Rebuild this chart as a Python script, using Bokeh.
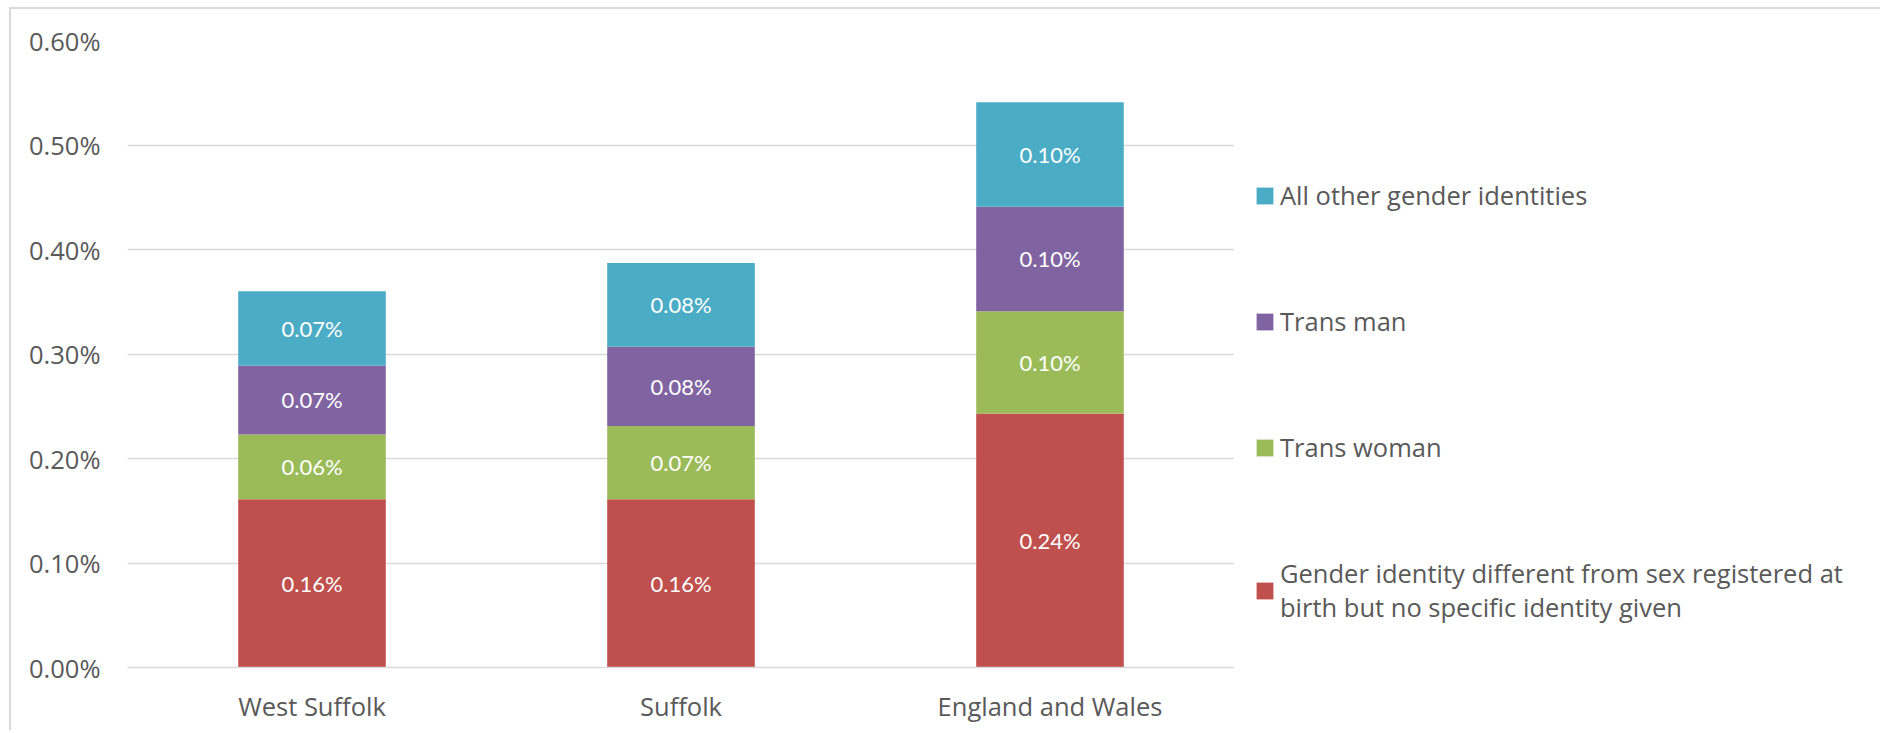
from bokeh.plotting import figure
from bokeh.layouts import row
from bokeh.models import (ColumnDataSource, FactorRange, Range1d, FixedTicker,
                          PrintfTickFormatter, Legend, LegendItem, LabelSet)
from bokeh.embed import file_html
from bokeh.resources import INLINE
from bokeh.core.properties import value

# ---- data (percent of usual residents) ----
areas = ["West Suffolk", "Suffolk", "England and Wales"]
series_keys = ["unspecified", "trans_woman", "trans_man", "other"]
series_names = [
    "Gender identity different from sex registered at\nbirth but no specific identity given",
    "Trans woman",
    "Trans man",
    "All other gender identities",
]
unspecified = [0.161, 0.161, 0.243]
trans_woman = [0.062, 0.070, 0.098]
trans_man = [0.066, 0.076, 0.100]
other = [0.071, 0.080, 0.100]
colors = ["#C0504D", "#9BBB59", "#8064A2", "#4BACC6"]
y_ticks = [0.0, 0.1, 0.2, 0.3, 0.4, 0.5, 0.6]

values = {"unspecified": unspecified, "trans_woman": trans_woman,
          "trans_man": trans_man, "other": other}

source = ColumnDataSource(dict(area=areas, **values))

# label positions (segment mid-points) computed from the data
lx, ly, lt = [], [], []
for i, a in enumerate(areas):
    base = 0.0
    for k in series_keys:
        v = values[k][i]
        lx.append(a)
        ly.append(base + v / 2)
        lt.append("%.2f%%" % v)
        base += v
label_source = ColumnDataSource(dict(x=lx, y=ly, text=lt))

TOTAL_W, H = 1880, 730
MAIN_W = 1234
LEG_W = TOTAL_W - MAIN_W

p = figure(x_range=FactorRange(factors=areas, range_padding=0),
           y_range=Range1d(0, 0.6),
           width=MAIN_W, height=H,
           output_backend="svg", toolbar_location=None,
           min_border_left=127, min_border_right=0,
           min_border_top=40, min_border_bottom=63)
p.border_fill_color = None
p.background_fill_color = "white"
p.outline_line_color = None

renderers = p.vbar_stack(series_keys, x="area", width=0.4, source=source,
                         fill_color=colors, line_color=None)

labels = LabelSet(x="x", y="y", text="text", source=label_source,
                  text_align="center", text_baseline="middle",
                  text_color="white", text_font=value("Lato"),
                  text_font_size="22px")
p.add_layout(labels)

# axes
p.yaxis.ticker = FixedTicker(ticks=y_ticks)
p.yaxis.formatter = PrintfTickFormatter(format="%.2f%%")
p.yaxis.axis_line_color = None
p.yaxis.major_tick_line_color = None
p.yaxis.minor_tick_line_color = None
p.yaxis.major_label_standoff = 21
p.yaxis.major_label_text_font = "Open Sans"
p.yaxis.major_label_text_font_size = "25.5px"
p.yaxis.major_label_text_color = "#595959"

p.xaxis.axis_line_color = "#d9d9d9"
p.xaxis.axis_line_width = 1.3
p.xaxis.major_tick_line_color = None
p.xaxis.minor_tick_line_color = None
p.xaxis.major_label_standoff = 15
p.xaxis.major_label_text_font = "Open Sans"
p.xaxis.major_label_text_font_size = "25.5px"
p.xaxis.major_label_text_color = "#595959"

p.xgrid.grid_line_color = None
p.ygrid.ticker = FixedTicker(ticks=y_ticks)
p.ygrid.grid_line_color = "#d9d9d9"
p.ygrid.grid_line_width = 1.3

# ---- legend panel (right of the plot area) ----
pl = figure(width=LEG_W, height=H, x_range=Range1d(0, 1), y_range=Range1d(0, 1),
            x_axis_type=None, y_axis_type=None,
            output_backend="svg", toolbar_location=None,
            min_border_left=0, min_border_right=0,
            min_border_top=0, min_border_bottom=0)
pl.grid.visible = False
pl.outline_line_color = None
pl.background_fill_color = None
pl.border_fill_color = None

# key swatches: one zero-size bar per series so the legend can draw its colour
key_renderers = []
for k, c in zip(series_keys, colors):
    key_renderers.append(pl.vbar(x=[0.5], bottom=[0], top=[0], width=0,
                                 fill_color=c, line_color=None))

legend = Legend(
    items=[LegendItem(label=series_names[i], renderers=[key_renderers[i]])
           for i in reversed(range(len(series_keys)))],
    location=(20, 43), orientation="vertical",
    padding=0, margin=0, spacing=92,
    glyph_width=21, glyph_height=21, label_standoff=5, label_height=21,
    label_text_font="Open Sans", label_text_font_size="25.5px",
    label_text_color="#595959", label_text_line_height=1.53,
    border_line_color=None, background_fill_alpha=0,
)
pl.add_layout(legend)

layout = row(p, pl)
layout.styles = {
    "background-image": "linear-gradient(#d9d9d9, #d9d9d9), linear-gradient(#d9d9d9, #d9d9d9)",
    "background-position": "9px 7px, 9px 7px",
    "background-size": "2px 100%, 100% 2px",
    "background-repeat": "no-repeat",
}

open("out.html", "w").write(file_html(layout, INLINE))
